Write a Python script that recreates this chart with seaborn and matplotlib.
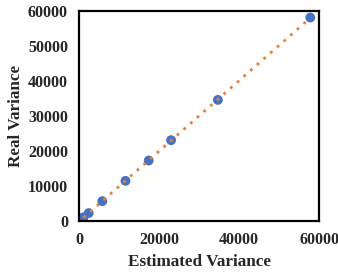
import matplotlib
matplotlib.use("Agg")
import matplotlib.pyplot as plt
import seaborn as sns
import pandas as pd

# Estimated vs real variance
estimated = [1100, 2400, 5800, 11600, 17400, 23000, 34700, 57800]
real = [1100, 2300, 5700, 11500, 17300, 23100, 34600, 58100]
ticks = [0, 20000, 40000, 60000]
yticks = [0, 10000, 20000, 30000, 40000, 50000, 60000]

df = pd.DataFrame({"Estimated Variance": estimated, "Real Variance": real})

sns.set_style("white")
plt.rcParams["font.family"] = ["Liberation Serif", "DejaVu Serif"]

fig = plt.figure(figsize=(3.38, 2.73), dpi=100)
ax = fig.add_axes([0.234, 0.19, 0.71, 0.77])

sns.regplot(data=df, x="Estimated Variance", y="Real Variance", ci=None, ax=ax,
            scatter_kws={"s": 50, "color": "#4472C4", "alpha": 1, "zorder": 2,
                         "edgecolor": "none"},
            line_kws={"color": "#ED7D31", "linestyle": (0, (1, 2.2)), "lw": 2, "zorder": 3})

ax.set_xlim(0, 60000)
ax.set_ylim(0, 60000)
ax.set_xticks(ticks)
ax.set_yticks(yticks)
ax.tick_params(length=0, labelsize=11.5)
ax.tick_params(axis="x", pad=8)
ax.tick_params(axis="y", pad=8)
for lab in ax.get_xticklabels() + ax.get_yticklabels():
    lab.set_fontweight("bold")
ax.set_xlabel("Estimated Variance", fontsize=12.3, fontweight="bold", labelpad=4)
ax.set_ylabel("Real Variance", fontsize=12.3, fontweight="bold", labelpad=3)
for s in ax.spines.values():
    s.set_color("black")
    s.set_linewidth(1.6)

fig.savefig("out.png", dpi=100)
